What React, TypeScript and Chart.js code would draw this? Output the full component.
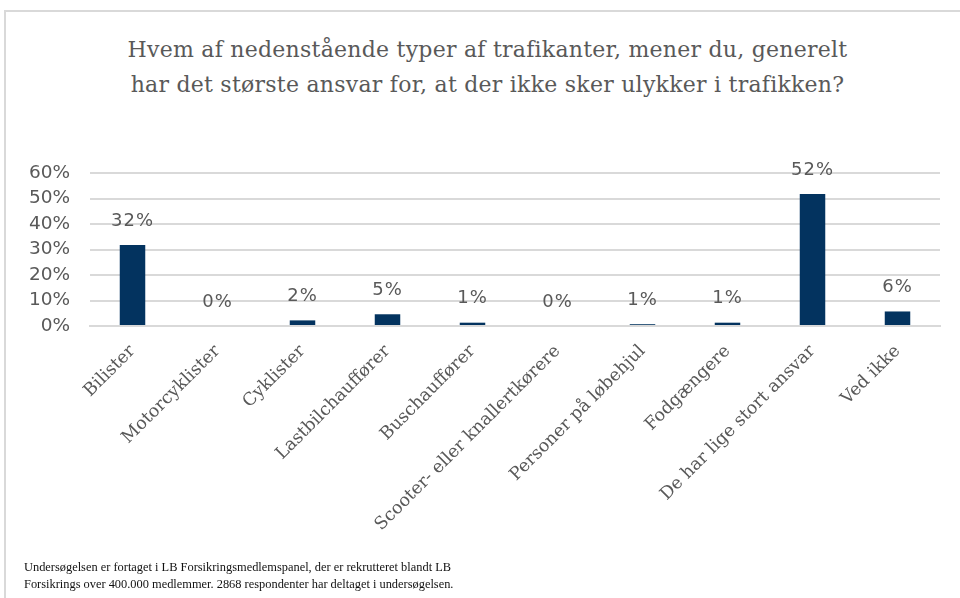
import React, { useEffect, useRef } from "react";
import { Chart, registerables } from "chart.js";

Chart.register(...registerables);

const titleLines = [
  "Hvem af nedenstående typer af trafikanter, mener du, generelt",
  "har det største ansvar for, at der ikke sker ulykker i trafikken?",
];
const categories = [
  "Bilister",
  "Motorcyklister",
  "Cyklister",
  "Lastbilchauffører",
  "Buschauffører",
  "Scooter- eller knallertkørere",
  "Personer på løbehjul",
  "Fodgængere",
  "De har lige stort ansvar",
  "Ved ikke",
];
const shares = [31.8, 0, 2.2, 4.6, 1.3, 0, 0.7, 1.3, 51.8, 5.7];
const valueLabels = ["32%", "0%", "2%", "5%", "1%", "0%", "1%", "1%", "52%", "6%"];
const yTicks = [0, 10, 20, 30, 40, 50, 60];
const footerLines = [
  "Undersøgelsen er fortaget i LB Forsikringsmedlemspanel,  der er rekrutteret blandt LB",
  "Forsikrings over 400.000 medlemmer.  2868 respondenter har deltaget i undersøgelsen.",
];

const GRAY = "#595959";
const GRID = "#d9d9d9";
const BAR = "#03335f";

const valueLabelPlugin = {
  id: "valueLabels",
  afterDatasetsDraw(chart: any) {
    const ctx = chart.ctx;
    const meta = chart.getDatasetMeta(0);
    ctx.save();
    ctx.font = "18px 'DejaVu Sans'";
    (ctx as any).letterSpacing = "1px";
    ctx.fillStyle = GRAY;
    ctx.textAlign = "center";
    ctx.textBaseline = "middle";
    meta.data.forEach((bar: any, i: number) => {
      ctx.fillText(valueLabels[i], bar.x, bar.y - 24);
    });
    ctx.restore();
  },
};

export default function App() {
  const ref = useRef<HTMLCanvasElement | null>(null);
  useEffect(() => {
    if (!ref.current) return;
    const chart = new Chart(ref.current, {
      type: "bar",
      data: {
        labels: categories,
        datasets: [
          {
            data: shares,
            backgroundColor: BAR,
            barPercentage: 0.3,
            categoryPercentage: 1,
          },
        ],
      },
      options: {
        animation: false,
        responsive: false,
        maintainAspectRatio: false,
        layout: { padding: { top: 173, right: 20, left: 0, bottom: 0 } },
        plugins: {
          legend: { display: false },
          tooltip: { enabled: false },
          title: { display: false },
        },
        scales: {
          x: {
            grid: { display: false, drawTicks: false },
            border: { display: true, color: GRID, width: 2 },
            ticks: {
              autoSkip: false,
              minRotation: 45,
              maxRotation: 45,
              padding: 15,
              color: GRAY,
              font: { family: "'DejaVu Serif'", size: 17.5 },
            },
            afterFit(scale: any) {
              scale.height = 272;
            },
          },
          y: {
            min: 0,
            max: 60,
            afterBuildTicks(scale: any) {
              scale.ticks = yTicks.map((v) => ({ value: v }));
            },
            grid: { color: GRID, lineWidth: 2, drawTicks: false },
            border: { display: false },
            ticks: {
              autoSkip: false,
              padding: 20,
              color: GRAY,
              font: { family: "'DejaVu Sans'", size: 18.5 },
              callback: (v: any) => v + "%",
            },
            afterFit(scale: any) {
              scale.width = 90;
            },
          },
        },
      },
      plugins: [valueLabelPlugin],
    });
    return () => chart.destroy();
  }, []);

  return (
    <div
      style={{
        position: "fixed",
        left: 0,
        top: 0,
        width: 960,
        height: 598,
        overflow: "hidden",
        background: "#fff",
      }}
    >
      <div
        style={{
          position: "absolute",
          left: 4,
          top: 10,
          width: 1000,
          height: 700,
          border: "2px solid " + GRID,
        }}
      />
      <div
        style={{
          position: "absolute",
          left: 0,
          top: 32,
          width: 975,
          textAlign: "center",
          fontFamily: "'DejaVu Serif'",
          fontSize: 22,
          letterSpacing: "0.25px",
          lineHeight: "35px",
          color: GRAY,
        }}
      >
        {titleLines.map((t, i) => (
          <div key={i}>{t}</div>
        ))}
      </div>
      <canvas
        ref={ref}
        width={960}
        height={598}
        style={{ position: "absolute", left: 0, top: 0, width: 960, height: 598 }}
      />
      <div
        style={{
          position: "absolute",
          left: 24,
          top: 559,
          fontFamily: "'Liberation Serif'",
          fontSize: 12.4,
          lineHeight: "17px",
          color: "#111",
        }}
      >
        {footerLines.map((t, i) => (
          <div key={i}>{t}</div>
        ))}
      </div>
    </div>
  );
}
